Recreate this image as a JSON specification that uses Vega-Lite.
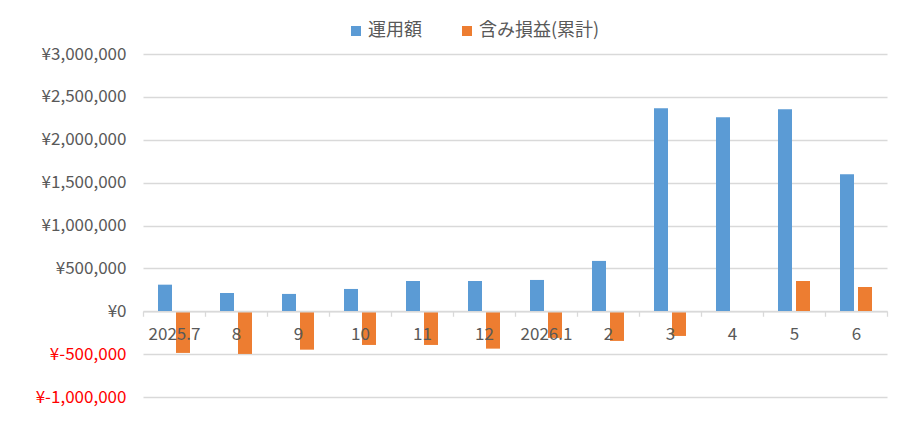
{
  "$schema": "https://vega.github.io/schema/vega-lite/v6.json",
  "width": 744,
  "height": 343,
  "autosize": {"type": "none"},
  "padding": {"left": 143, "top": 54, "right": 29, "bottom": 27},
  "background": "white",
  "data": {
    "values": [
      {"month": "2025.7", "series": "運用額", "value": 310000},
      {"month": "2025.7", "series": "含み損益(累計)", "value": -486000},
      {"month": "8", "series": "運用額", "value": 213000},
      {"month": "8", "series": "含み損益(累計)", "value": -498000},
      {"month": "9", "series": "運用額", "value": 202000},
      {"month": "9", "series": "含み損益(累計)", "value": -448000},
      {"month": "10", "series": "運用額", "value": 260000},
      {"month": "10", "series": "含み損益(累計)", "value": -393000},
      {"month": "11", "series": "運用額", "value": 353000},
      {"month": "11", "series": "含み損益(累計)", "value": -393000},
      {"month": "12", "series": "運用額", "value": 353000},
      {"month": "12", "series": "含み損益(累計)", "value": -436000},
      {"month": "2026.1", "series": "運用額", "value": 365000},
      {"month": "2026.1", "series": "含み損益(累計)", "value": -311000},
      {"month": "2", "series": "運用額", "value": 587000},
      {"month": "2", "series": "含み損益(累計)", "value": -346000},
      {"month": "3", "series": "運用額", "value": 2367000},
      {"month": "3", "series": "含み損益(累計)", "value": -288000},
      {"month": "4", "series": "運用額", "value": 2262000},
      {"month": "4", "series": "含み損益(累計)", "value": 0},
      {"month": "5", "series": "運用額", "value": 2356000},
      {"month": "5", "series": "含み損益(累計)", "value": 353000},
      {"month": "6", "series": "運用額", "value": 1598000},
      {"month": "6", "series": "含み損益(累計)", "value": 283000}
    ]
  },
  "mark": {"type": "bar"},
  "encoding": {
    "x": {
      "field": "month",
      "type": "nominal",
      "sort": null,
      "scale": {"paddingInner": 0, "paddingOuter": 0},
      "axis": {
        "title": null,
        "labelAngle": 0,
        "offset": -85.75,
        "zindex": 1,
        "tickBand": "extent",
        "domainColor": "#d9d9d9",
        "domainWidth": 1.3,
        "tickColor": "#d9d9d9",
        "tickWidth": 1.3,
        "tickSize": 5,
        "labelPadding": 10,
        "labelFont": "Noto Sans CJK JP",
        "labelFontSize": 17,
        "labelColor": "#595959",
        "grid": false
      }
    },
    "xOffset": {
      "field": "series",
      "type": "nominal",
      "sort": ["運用額", "含み損益(累計)"],
      "scale": {"paddingInner": 0.2222, "paddingOuter": 0.8333}
    },
    "y": {
      "field": "value",
      "type": "quantitative",
      "scale": {"domain": [-1000000, 3000000], "nice": false},
      "axis": {
        "title": null,
        "values": [-1000000, -500000, 0, 500000, 1000000, 1500000, 2000000, 2500000, 3000000],
        "labelExpr": "(datum.value < 0 ? '¥-' : '¥') + format(abs(datum.value), ',')",
        "labelColor": {"condition": {"test": "datum.value < 0", "value": "#ff0000"}, "value": "#595959"},
        "labelFont": "Noto Sans CJK JP",
        "labelFontSize": 17,
        "domain": false,
        "ticks": false,
        "labelPadding": 17,
        "gridColor": "#d9d9d9",
        "gridWidth": 1.3
      }
    },
    "color": {
      "field": "series",
      "type": "nominal",
      "sort": ["運用額", "含み損益(累計)"],
      "scale": {"domain": ["運用額", "含み損益(累計)"], "range": ["#5b9bd5", "#ed7d31"]},
      "legend": {
        "title": null,
        "orient": "none",
        "direction": "horizontal",
        "legendX": 204,
        "legendY": -32,
        "padding": 0,
        "symbolType": "square",
        "symbolSize": 100,
        "symbolStrokeWidth": 0,
        "labelOffset": 3,
        "columnPadding": 36,
        "labelFont": "Noto Sans CJK JP",
        "labelFontSize": 18,
        "labelColor": "#595959"
      }
    }
  },
  "config": {"view": {"stroke": null}}
}
